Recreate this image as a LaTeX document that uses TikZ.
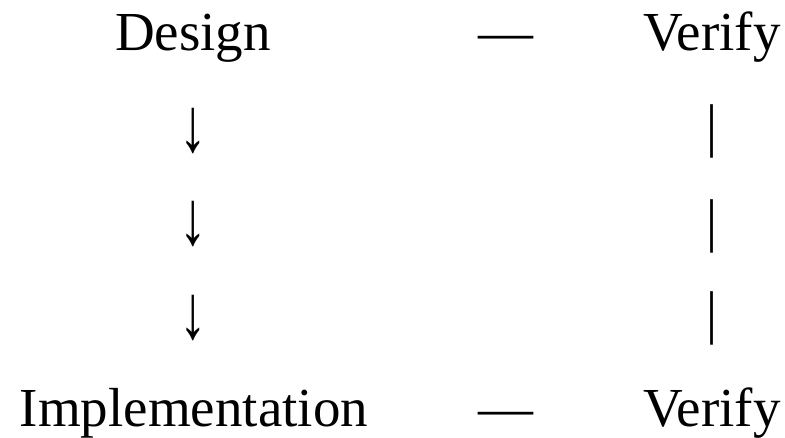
\documentclass[tikz,border=0pt]{standalone}
\usepackage{fontspec}
\setmainfont{Liberation Serif}
\usepackage{tikz}

\begin{document}
\begin{tikzpicture}[x=1pt,y=-1pt]
    \tikzset{word/.style={inner sep=0pt, anchor=base, font=\fontsize{55}{66}\selectfont}}
    \useasboundingbox (0,0) rectangle (785,437);

    % top row
    \node[word] (design) at (193,50) {Design};
    \node[word] (topdash) at (506,50) {—};
    \node[word] (topverify) at (712,50) {Verify};

    % arrows down on the left, bars on the right (stretched a bit)
    \foreach \ya/\yb [count=\i] in {151/145, 244/240, 338/332} {
        \node[word] (down\i) at (193,\ya) {\scalebox{1}[1.4]{↓}};
        \node[word] (bar\i) at (712,\yb) {\scalebox{1}[1.07]{|}};
    }

    % bottom row
    \node[word] (impl) at (194,426) {Implementation};
    \node[word] (botdash) at (506,426) {—};
    \node[word] (botverify) at (712,426) {Verify};
\end{tikzpicture}
\end{document}
